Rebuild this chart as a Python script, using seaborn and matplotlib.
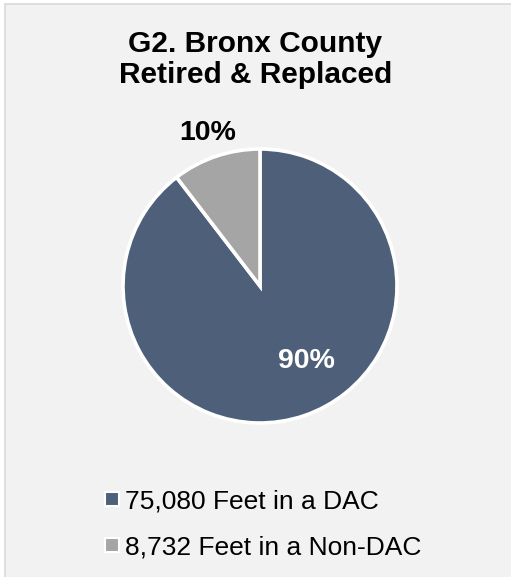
import matplotlib
matplotlib.use("Agg")
import matplotlib.pyplot as plt
from matplotlib.patches import Rectangle
from matplotlib.lines import Line2D
import numpy as np
import seaborn as sns

# Data
categories = ["DAC", "Non-DAC"]
feet = [75080, 8732]
title_lines = ["G2. Bronx County", "Retired & Replaced"]

sns.set_style("white")
plt.rcParams["font.family"] = ["Liberation Sans", "DejaVu Sans"]
plt.rcParams["text.color"] = "black"

palette = sns.color_palette(["#4e6079", "#a5a5a5"])

W, H = 511, 577
fig = plt.figure(figsize=(W / 100, H / 100), dpi=100, facecolor="white")

# Chart-area panel with a light border
fig.patches.append(Rectangle((5 / W, -0.05), 1.1, 1 - 3.5 / H + 0.05,
                             transform=fig.transFigure, facecolor="#f2f2f2",
                             edgecolor="#d9d9d9", linewidth=1.2, zorder=-5))

# Pie axes: centre (260, 286) px, radius 137 px
cx, cy, r = 260, 286, 137
ax = fig.add_axes([(cx - r) / W, (H - cy - r) / H, 2 * r / W, 2 * r / H])
ax.set_zorder(2)
ax.set_facecolor("none")
wedges, _ = ax.pie(feet, colors=palette, startangle=90, counterclock=False,
                   radius=1, wedgeprops=dict(edgecolor="white", linewidth=2.6))
ax.set_xlim(-1, 1)
ax.set_ylim(-1, 1)
ax.set_aspect("equal")
ax.axis("off")

total = sum(feet)
pcts = [f"{round(v / total * 100):.0f}%" for v in feet]

# 90% label inside the large slice, 10% label outside the small slice
ax.text(0.336, -0.55, pcts[0], color="white", fontsize=20.5, fontweight="bold",
        ha="center", va="center")
w = wedges[1]
mid = np.deg2rad((w.theta1 + w.theta2) / 2)
ax.text(1.18 * np.cos(mid), 1.18 * np.sin(mid), pcts[1], color="black",
        fontsize=20.5, fontweight="bold", ha="center", va="center",
        clip_on=False)

# Title
fig.text(255.5 / W, 1 - 83 / H, "\n".join(title_lines), ha="center",
         va="baseline", fontsize=21.5, fontweight="bold", linespacing=1.12,
         color="black")

# Legend
handles = [Line2D([0], [0], marker="s", linestyle="none", markersize=10,
                  markerfacecolor=c, markeredgecolor="white",
                  markeredgewidth=1.5) for c in palette]
labels = [f"{v:,} Feet in a {c}" for v, c in zip(feet, categories)]
leg = fig.legend(handles, labels, loc="upper left",
                 bbox_to_anchor=(103 / W, 1 - 489 / H), frameon=False,
                 fontsize=19, handlelength=0.65, handletextpad=0.2,
                 labelspacing=0.85, borderpad=0, borderaxespad=0)
for t in leg.get_texts():
    t.set_color("black")

fig.savefig("out.png", dpi=100, facecolor=fig.get_facecolor())
